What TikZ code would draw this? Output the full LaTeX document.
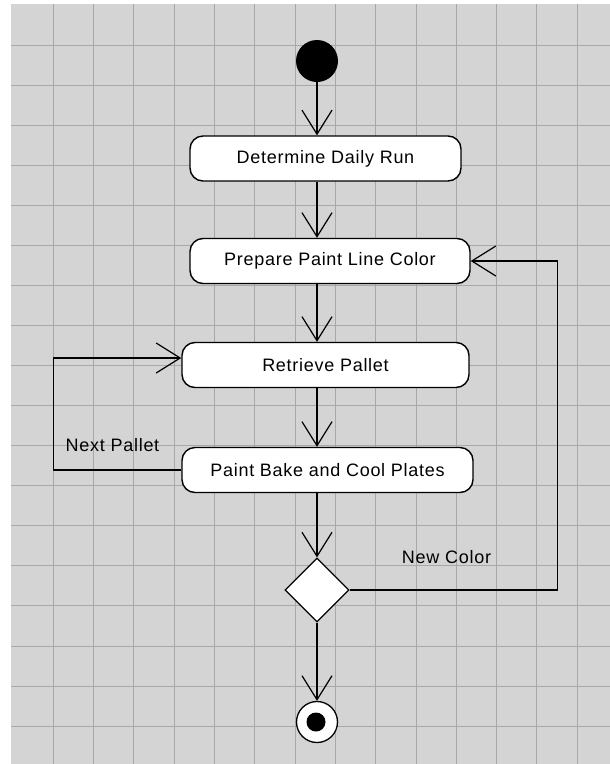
\documentclass[tikz,border=0pt]{standalone}
\usepackage{fontspec}
\usepackage{xcolor}
\usepackage{tikz}
\usetikzlibrary{shapes.geometric}
\usetikzlibrary{arrows.meta}
\newfontfamily\umlfont[LetterSpace=4]{Liberation Sans}
\definecolor{canvasgray}{RGB}{212,212,212}
\definecolor{gridgray}{RGB}{168,168,168}
\tikzset{
    action/.style = {draw = black, line width = 1.4pt, fill = white, rounded corners = 13pt,
        minimum height = 45pt, inner sep = 0pt, font = \umlfont\fontsize{18pt}{20pt}\selectfont},
    decision/.style = {draw = black, line width = 1.2pt, fill = white, diamond, aspect = 1,
        minimum width = 64pt, minimum height = 64pt, inner sep = 0pt},
    guard/.style = {font = \umlfont\fontsize{18pt}{20pt}\selectfont, inner sep = 0pt},
    flow/.style = {draw = black, line width = 1.4pt, -{Straight Barb[length = 24pt, width = 30pt, line width = 1.2pt]}},
    gridline/.style = {draw = gridgray, line width = 1pt}
}

\begin{document}
\begin{tikzpicture}[x = 1pt, y = -1pt]
        \useasboundingbox (0, 0) rectangle (610, 764);
        \fill [canvasgray] (11, 4) rectangle (610, 764);
        \foreach \i in {0,...,13}
            \draw [gridline] ({53.3 + 40.3*\i}, 4) -- ({53.3 + 40.3*\i}, 764);
        \foreach \j in {0,...,17}
            \draw [gridline] (11, {45 + 40.07*\j}) -- (610, {45 + 40.07*\j});

        \node [circle, fill = black, minimum size = 42pt, inner sep = 0pt] (start) at (317, 61) {};
        \node [action, minimum width = 271pt] (determine) at (325.5, 158.5) {Determine Daily Run};
        \node [action, minimum width = 280pt] (prepare) at (330, 261) {Prepare Paint Line Color};
        \node [action, minimum width = 287pt] (retrieve) at (325.5, 365) {Retrieve Pallet};
        \node [action, minimum width = 291pt] (paint) at (327.5, 470) {Paint Bake and Cool Plates};
        \node [decision] (choice) at (317, 590) {};
        \node [circle, draw = black, line width = 1.3pt, fill = white, minimum size = 41pt, inner sep = 0pt] (finish) at (317, 722) {};
        \node [circle, fill = black, minimum size = 19pt, inner sep = 0pt] (finishdot) at (316, 722) {};

        \node [guard] (nextpallet) at (112.5, 445) {Next Pallet};
        \node [guard] (newcolor) at (446.5, 557) {New Color};

        \draw [flow] (start) -- (start |- determine.north);
        \draw [flow] (start |- determine.south) -- (start |- prepare.north);
        \draw [flow] (start |- prepare.south) -- (start |- retrieve.north);
        \draw [flow] (start |- retrieve.south) -- (start |- paint.north);
        \draw [flow] (start |- paint.south) -- (choice.north);
        \draw [flow] (choice.south) -- (finish.north);

        \draw [flow] (paint.west) -- ++(-128, 0) |- ([yshift = 7pt]retrieve.west);
        \draw [flow] (choice.east) -- ++(208, 0) |- (prepare.east);
    \end{tikzpicture}
\end{document}
